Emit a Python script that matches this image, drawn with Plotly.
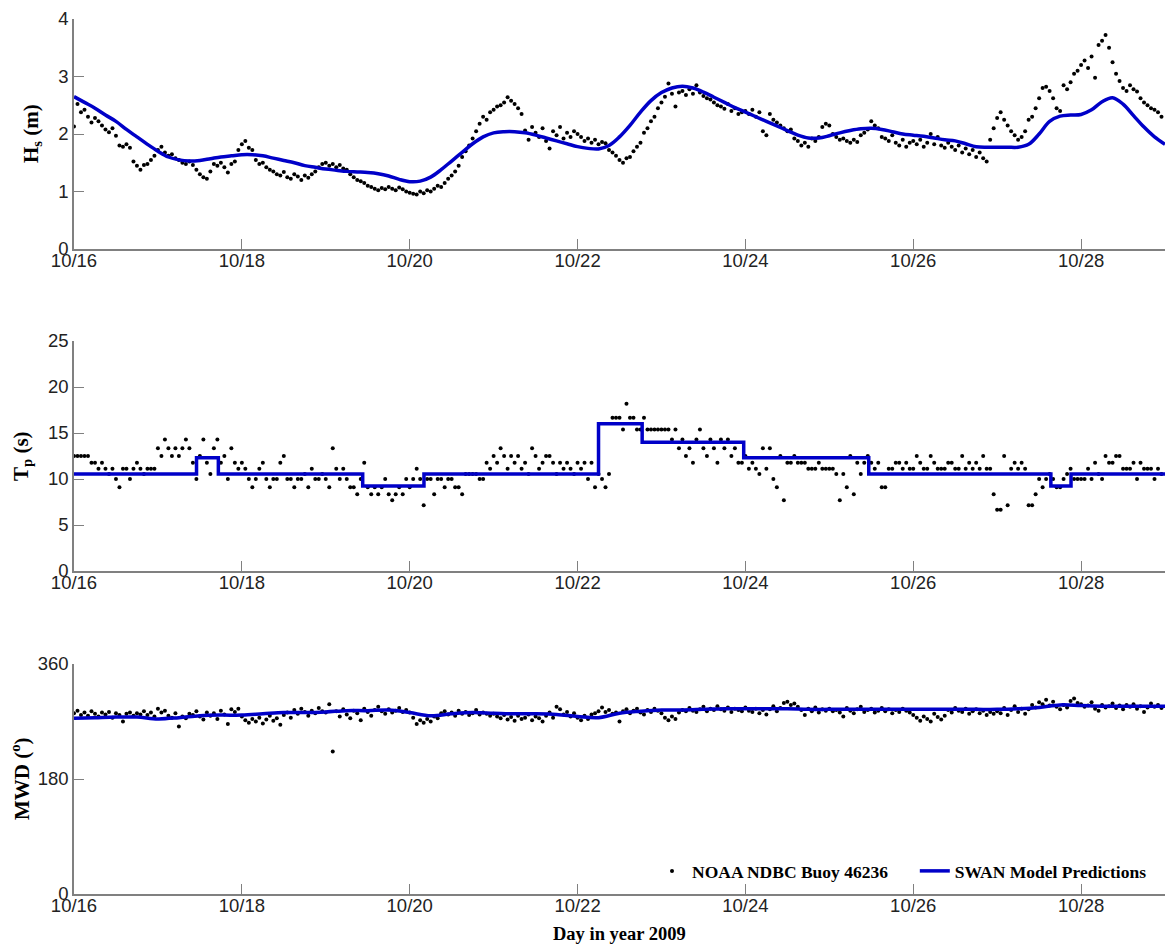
import numpy as np
import pandas as pd
import plotly.graph_objects as go

START = pd.Timestamp("2009-10-16")
N_DAYS = 13

# ---------------- Observed (hourly, one row per day) ----------------
hs_obs = [
    [2.13, 2.52, 2.38, 2.42, 2.30, 2.20, 2.28, 2.22, 2.15, 2.08, 2.03, 2.10, 1.97, 1.80, 1.78, 1.82, 1.76, 1.52, 1.45, 1.38, 1.46, 1.48, 1.55, 1.62],
    [1.72, 1.78, 1.68, 1.62, 1.65, 1.58, 1.55, 1.50, 1.48, 1.52, 1.46, 1.38, 1.30, 1.25, 1.22, 1.35, 1.48, 1.45, 1.50, 1.42, 1.33, 1.48, 1.52, 1.72],
    [1.82, 1.88, 1.76, 1.72, 1.55, 1.48, 1.50, 1.42, 1.38, 1.35, 1.30, 1.28, 1.34, 1.25, 1.22, 1.30, 1.26, 1.20, 1.28, 1.24, 1.30, 1.35, 1.42, 1.48],
    [1.50, 1.45, 1.48, 1.42, 1.46, 1.40, 1.38, 1.30, 1.25, 1.20, 1.18, 1.15, 1.10, 1.08, 1.05, 1.02, 1.06, 1.04, 1.08, 1.05, 1.02, 1.07, 1.04, 1.00],
    [0.98, 0.96, 0.95, 1.00, 0.97, 1.02, 1.00, 1.05, 1.10, 1.08, 1.15, 1.22, 1.28, 1.35, 1.45, 1.60, 1.70, 1.80, 1.92, 2.05, 2.18, 2.30, 2.25, 2.38],
    [2.42, 2.48, 2.50, 2.55, 2.64, 2.58, 2.52, 2.45, 2.35, 2.06, 1.90, 2.12, 2.02, 1.95, 2.10, 1.88, 1.75, 2.05, 1.98, 2.12, 1.92, 2.02, 1.95, 2.05],
    [2.00, 1.95, 1.88, 1.92, 1.85, 1.90, 1.82, 1.86, 1.84, 1.72, 1.68, 1.62, 1.55, 1.50, 1.58, 1.60, 1.70, 1.78, 1.85, 2.02, 2.10, 2.22, 2.30, 2.45],
    [2.55, 2.65, 2.88, 2.70, 2.48, 2.72, 2.75, 2.68, 2.78, 2.70, 2.85, 2.72, 2.66, 2.62, 2.60, 2.55, 2.50, 2.48, 2.44, 2.52, 2.40, 2.45, 2.35, 2.38],
    [2.40, 2.35, 2.42, 2.30, 2.38, 2.05, 1.98, 2.35, 2.25, 2.20, 2.15, 2.10, 2.05, 2.08, 1.92, 1.88, 1.80, 1.85, 1.78, 1.92, 1.88, 1.95, 2.12, 2.18],
    [2.15, 2.00, 1.95, 1.90, 1.92, 1.88, 1.85, 1.90, 1.86, 1.98, 2.02, 2.08, 2.22, 2.15, 2.10, 1.95, 1.92, 1.88, 1.98, 1.85, 1.80, 1.90, 1.78, 1.85],
    [1.88, 1.82, 1.90, 1.78, 1.85, 2.00, 1.82, 1.95, 1.80, 1.76, 1.85, 1.78, 1.72, 1.80, 1.68, 1.75, 1.65, 1.72, 1.60, 1.68, 1.58, 1.52, 1.90, 2.10],
    [2.28, 2.38, 2.25, 2.15, 2.05, 1.98, 1.90, 1.95, 2.05, 2.25, 2.30, 2.45, 2.62, 2.80, 2.82, 2.75, 2.62, 2.45, 2.40, 2.85, 2.78, 2.90, 3.05, 3.10],
    [3.20, 3.28, 3.15, 3.35, 2.98, 3.55, 3.62, 3.72, 3.50, 3.25, 3.05, 2.92, 2.80, 2.75, 2.85, 2.78, 2.74, 2.62, 2.55, 2.50, 2.45, 2.42, 2.38, 2.30],
]

tp_obs = [
    [12.5, 12.5, 12.5, 12.5, 12.5, 11.76, 11.76, 11.11, 11.76, 11.11, 10.53, 11.11, 10.0, 9.09, 11.11, 11.11, 10.0, 11.11, 11.76, 11.11, 10.53, 11.11, 11.11, 11.11],
    [13.33, 12.5, 14.29, 13.33, 12.5, 13.33, 12.5, 13.33, 14.29, 13.33, 11.76, 10.0, 12.5, 14.29, 11.76, 10.53, 13.33, 14.29, 11.76, 12.5, 10.0, 13.33, 11.76, 11.11],
    [11.76, 11.11, 10.0, 9.09, 10.0, 11.11, 11.76, 10.0, 9.09, 10.0, 10.0, 11.76, 12.5, 10.0, 10.0, 9.09, 10.0, 10.0, 10.53, 9.09, 11.11, 10.0, 10.0, 10.53],
    [10.0, 9.09, 13.33, 11.11, 10.0, 11.11, 10.0, 9.09, 9.09, 8.33, 10.0, 11.76, 9.09, 8.33, 9.09, 8.33, 9.09, 10.0, 8.33, 7.69, 8.33, 9.09, 8.33, 10.0],
    [9.09, 10.0, 11.11, 10.0, 7.14, 10.0, 10.0, 8.33, 10.0, 10.0, 9.09, 10.0, 10.0, 9.09, 9.09, 8.33, 10.53, 10.53, 10.53, 10.53, 10.0, 10.0, 11.76, 11.11],
    [12.5, 11.76, 13.33, 12.5, 11.11, 12.5, 11.76, 12.5, 11.11, 11.76, 10.53, 13.33, 12.5, 11.11, 11.76, 12.5, 12.5, 11.76, 10.53, 11.76, 11.11, 11.76, 11.11, 10.53],
    [11.76, 11.11, 11.76, 10.0, 11.76, 9.09, 10.53, 10.0, 9.09, 10.53, 16.67, 16.67, 16.67, 15.38, 18.18, 16.67, 16.67, 15.38, 15.38, 16.67, 15.38, 15.38, 15.38, 15.38],
    [15.38, 15.38, 15.38, 14.29, 15.38, 13.33, 14.29, 12.5, 13.33, 11.76, 14.29, 15.38, 13.33, 12.5, 14.29, 13.33, 11.76, 14.29, 13.33, 14.29, 12.5, 13.33, 11.76, 11.76],
    [12.5, 11.11, 11.76, 11.11, 10.53, 13.33, 11.11, 13.33, 10.0, 9.09, 12.5, 7.69, 11.76, 11.76, 12.5, 11.76, 11.76, 11.76, 11.11, 11.11, 11.11, 11.76, 11.11, 11.11],
    [11.11, 11.11, 10.53, 7.69, 10.53, 9.09, 12.5, 8.33, 11.76, 10.53, 11.76, 12.5, 11.76, 11.11, 11.76, 9.09, 9.09, 11.11, 11.11, 11.76, 11.76, 11.11, 11.76, 11.11],
    [11.11, 12.5, 11.76, 11.11, 11.11, 12.5, 11.76, 11.11, 11.11, 11.11, 11.76, 11.76, 11.11, 11.11, 12.5, 11.11, 11.76, 11.11, 11.76, 11.11, 12.5, 11.11, 11.11, 8.33],
    [6.67, 6.67, 12.5, 7.14, 11.11, 11.76, 11.11, 11.76, 11.11, 7.14, 7.14, 8.33, 10.0, 9.09, 10.0, 10.53, 10.0, 9.09, 9.09, 10.0, 10.53, 11.11, 10.0, 10.0],
    [10.0, 10.0, 11.11, 10.0, 11.76, 10.53, 10.0, 12.5, 11.76, 11.76, 12.5, 12.5, 11.11, 11.11, 11.11, 11.76, 10.0, 11.76, 11.11, 11.11, 11.11, 10.0, 11.11, 10.53],
]

mwd_obs = [
    [283, 287, 280, 284, 279, 286, 282, 278, 284, 281, 285, 276, 283, 280, 270, 282, 284, 279, 283, 281, 286, 280, 284, 278],
    [290, 284, 287, 279, 276, 283, 262, 278, 275, 282, 280, 286, 278, 273, 284, 279, 283, 274, 287, 281, 266, 289, 285, 290],
    [278, 272, 268, 274, 270, 276, 267, 273, 279, 271, 275, 265, 280, 284, 276, 288, 282, 290, 285, 279, 287, 283, 291, 286],
    [284, 297, 223, 286, 278, 289, 281, 275, 287, 283, 272, 290, 285, 279, 288, 293, 286, 282, 289, 284, 287, 291, 285, 288],
    [284, 276, 266, 272, 268, 274, 270, 278, 275, 283, 286, 281, 284, 279, 287, 282, 285, 280, 283, 288, 281, 284, 282, 279],
    [282, 278, 275, 280, 273, 277, 271, 279, 274, 276, 281, 272, 278, 275, 270, 279, 284, 276, 293, 289, 281, 285, 278, 283],
    [276, 272, 279, 274, 281, 283, 286, 292, 285, 288, 282, 284, 270, 286, 289, 283, 287, 290, 284, 281, 288, 285, 290, 287],
    [283, 276, 272, 278, 274, 284, 288, 286, 291, 287, 285, 289, 293, 286, 290, 288, 294, 289, 287, 292, 285, 290, 288, 286],
    [292, 287, 285, 290, 283, 288, 281, 289, 294, 286, 291, 299, 301, 296, 298, 293, 288, 280, 290, 286, 292, 284, 289, 287],
    [290, 286, 288, 284, 278, 291, 287, 283, 289, 293, 285, 288, 290, 284, 287, 291, 286, 289, 283, 288, 285, 290, 287, 284],
    [280, 276, 271, 278, 274, 270, 282, 277, 273, 279, 288, 284, 291, 287, 285, 290, 282, 286, 289, 283, 287, 280, 285, 282],
    [286, 283, 291, 280, 288, 294, 285, 290, 282, 289, 296, 292, 300, 297, 304, 295, 301, 293, 289, 296, 292, 302, 306, 299],
    [297, 293, 295, 300, 290, 287, 296, 292, 294, 298, 291, 295, 289, 296, 293, 297, 290, 294, 285, 292, 298, 293, 296, 291],
]

# ---------------- SWAN model ----------------
# Hs every 3 hours
hs_model = [
    2.65, 2.55, 2.45, 2.33, 2.22, 2.08, 1.95, 1.82,
    1.70, 1.60, 1.55, 1.53, 1.54, 1.57, 1.60, 1.62,
    1.64, 1.64, 1.62, 1.58, 1.54, 1.50, 1.45, 1.42,
    1.39, 1.37, 1.35, 1.34, 1.33, 1.31, 1.27, 1.21,
    1.17, 1.18, 1.25, 1.38, 1.53, 1.68, 1.83, 1.95,
    2.02, 2.04, 2.04, 2.02, 1.98, 1.93, 1.88, 1.83,
    1.78, 1.75, 1.74, 1.80, 1.95, 2.15, 2.38, 2.58,
    2.72, 2.80, 2.83, 2.80, 2.73, 2.64, 2.55, 2.46,
    2.38, 2.30, 2.22, 2.14, 2.06, 1.98, 1.93, 1.93,
    1.97, 2.02, 2.06, 2.09, 2.10, 2.08, 2.04, 2.00,
    1.98, 1.96, 1.93, 1.90, 1.88, 1.83, 1.78, 1.77,
    1.77, 1.77, 1.77, 1.82, 2.00, 2.22, 2.31, 2.33,
    2.34, 2.42, 2.56, 2.63, 2.52, 2.32, 2.12, 1.95,
    1.82,
]

# Tp: piecewise constant, start day of each level
tp_model_day = [0.0, 1.46, 1.72, 3.44, 4.17, 6.25, 6.77, 7.98, 9.47, 11.64, 11.88, 13.0]
tp_model_val = [10.53, 12.3, 10.53, 9.25, 10.53, 16.0, 14.0, 12.3, 10.53, 9.25, 10.53, 10.53]

# MWD every 6 hours
mwd_model = [
    275, 276, 277, 277, 274, 276, 279, 280,
    280, 282, 284, 284, 285, 287, 287, 288,
    284, 279, 282, 284, 283, 282, 282, 281,
    278, 276, 283, 286, 288, 288, 289, 290,
    290, 290, 290, 289, 289, 289, 289, 289,
    289, 289, 289, 289, 289, 290, 292, 296,
    295, 294, 294, 294, 294,
]

x_ticks_days = 2
panel_titles = ["<b>H<sub>s</sub> (m)</b>", "<b>T<sub>p</sub> (s)</b>", "<b>MWD (<sup>o</sup>)</b>"]
panel_ranges = [[0, 4], [0, 25], [0, 360]]
panel_ticks = [[0, 1, 2, 3, 4], [0, 5, 10, 15, 20, 25], [0, 180, 360]]
obs_name = "NOAA NDBC Buoy 46236"
model_name = "SWAN Model Predictions"

# ---------------- build ----------------
obs_time = pd.date_range(START, periods=N_DAYS * 24, freq="h")
hs_model_time = pd.date_range(START, periods=len(hs_model), freq="3h")
mwd_model_time = pd.date_range(START, periods=len(mwd_model), freq="6h")
tp_model_time = START + pd.to_timedelta(np.array(tp_model_day), unit="D")

BLUE = "#0000c8"
obs_sets = [np.ravel(hs_obs), np.ravel(tp_obs), np.ravel(mwd_obs)]
model_sets = [
    (hs_model_time, hs_model, "spline"),
    (tp_model_time, tp_model_val, "hv"),
    (mwd_model_time, mwd_model, "spline"),
]

fig = go.Figure()
for i in range(3):
    xa = "x" if i == 0 else f"x{i+1}"
    ya = "y" if i == 0 else f"y{i+1}"
    fig.add_trace(go.Scatter(
        x=obs_time, y=obs_sets[i], mode="markers",
        marker=dict(color="black", size=4),
        name=obs_name + "\u00a0" * 5, legendgroup="obs", showlegend=(i == 0),
        xaxis=xa, yaxis=ya))
    mt, mv, shp = model_sets[i]
    fig.add_trace(go.Scatter(
        x=mt, y=mv, mode="lines",
        line=dict(color=BLUE, width=3.5, shape=shp),
        name=model_name, legendgroup="model", showlegend=(i == 0),
        xaxis=xa, yaxis=ya))

W, H = 1165, 945
L, R, T, B = 74, 0, 19, 51
PW = W - L - R
PH = H - T - B
def py(p):
    return (H - B - p) / PH
def px(p):
    return (p - L) / PW

panel_px = [(19, 249), (341, 571), (664, 894)]
title_x_px = [32, 22, 20]

axis_common = dict(
    showline=True, linecolor="#808080", linewidth=1.5,
    ticks="inside", ticklen=10, tickcolor="#808080", tickwidth=1.2,
    showgrid=False, zeroline=False,
    tickfont=dict(family="Liberation Sans, Arial", size=18.5, color="#222222"),
)

serif = "Liberation Serif, Times New Roman"
annotations = [dict(
    text="<b>Day in year 2009</b>", xref="paper", yref="paper",
    x=0.5, y=py(934), xanchor="center", yanchor="middle", showarrow=False,
    font=dict(family=serif, size=18.5, color="black"),
)]
for i in range(3):
    top, bot = panel_px[i]
    annotations.append(dict(
        text=panel_titles[i], xref="paper", yref="paper",
        x=px(title_x_px[i]), y=py((top + bot) / 2), xanchor="center", yanchor="middle",
        textangle=-90, showarrow=False,
        font=dict(family=serif, size=21, color="black"),
    ))

layout = dict(
    width=W, height=H,
    margin=dict(l=L, r=R, t=T, b=B),
    paper_bgcolor="white", plot_bgcolor="white",
    showlegend=True,
    legend=dict(
        orientation="h", x=px(652), xanchor="left",
        y=py(871), yanchor="middle",
        font=dict(family=serif, size=17.5, color="black", weight="bold"),
        bgcolor="rgba(255,255,255,0)",
    ),
    annotations=annotations,
)

for i in range(3):
    top, bot = panel_px[i]
    xk = "xaxis" if i == 0 else f"xaxis{i+1}"
    yk = "yaxis" if i == 0 else f"yaxis{i+1}"
    ya = "y" if i == 0 else f"y{i+1}"
    xa = "x" if i == 0 else f"x{i+1}"
    layout[xk] = dict(
        axis_common, type="date", domain=[0, 1], anchor=ya,
        range=[START, START + pd.Timedelta(days=N_DAYS)],
        tick0=START, dtick=x_ticks_days * 86400000, tickformat="%m/%d",
        ticklabelstandoff=-6,
    )
    layout[yk] = dict(
        axis_common, domain=[py(bot), py(top)], anchor=xa,
        range=panel_ranges[i], tickvals=panel_ticks[i],
    )

fig.update_layout(**layout)
fig.write_html("out.html", config={"displayModeBar": False},
               post_script="document.body.style.margin='0';")
